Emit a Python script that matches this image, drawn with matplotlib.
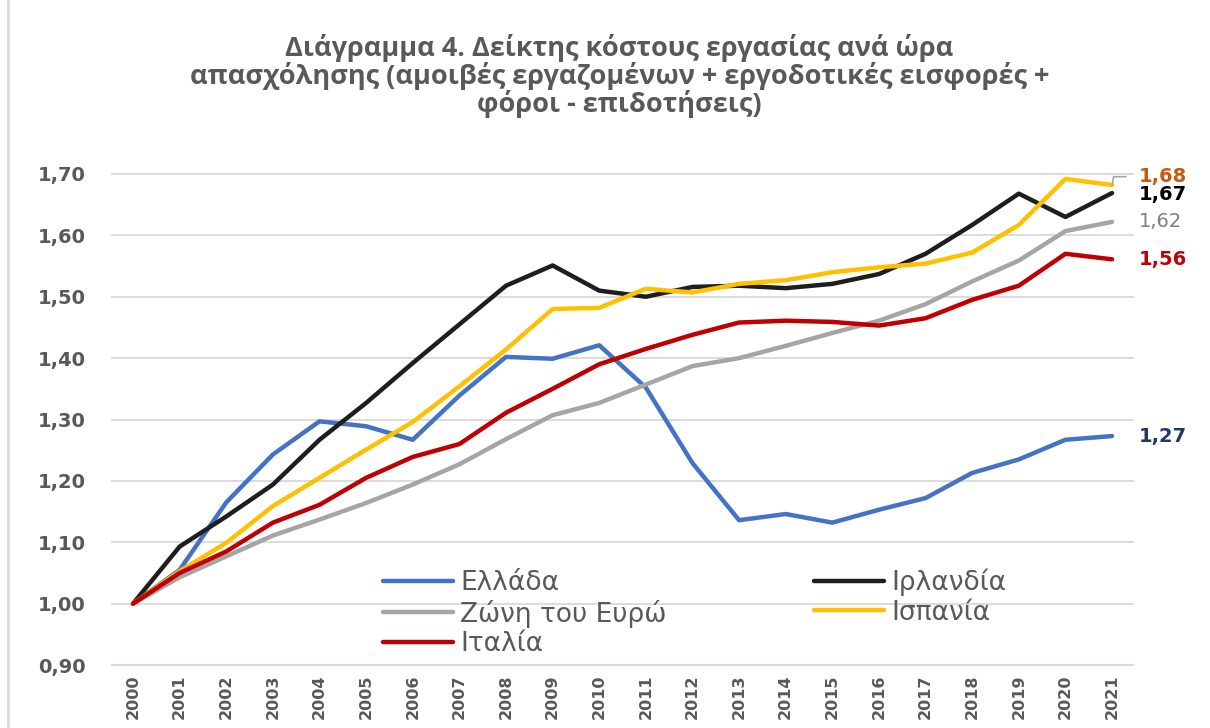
import numpy as np
import matplotlib.pyplot as plt
from matplotlib.lines import Line2D

# --- data (index, 2000 = 1.00) ---
years = list(range(2000, 2022))
greece = [1.00, 1.055, 1.165, 1.243, 1.297, 1.289, 1.267, 1.339, 1.402, 1.399, 1.421,
          1.352, 1.229, 1.136, 1.146, 1.132, 1.153, 1.172, 1.213, 1.235, 1.267, 1.273]
ireland = [1.00, 1.093, 1.142, 1.194, 1.267, 1.327, 1.392, 1.455, 1.518, 1.551, 1.510,
           1.500, 1.516, 1.518, 1.514, 1.521, 1.537, 1.570, 1.617, 1.668, 1.630, 1.669]
euro = [1.00, 1.043, 1.077, 1.111, 1.137, 1.164, 1.194, 1.227, 1.268, 1.307, 1.327,
        1.357, 1.387, 1.400, 1.420, 1.441, 1.461, 1.488, 1.525, 1.559, 1.607, 1.622]
spain = [1.00, 1.053, 1.099, 1.159, 1.205, 1.251, 1.296, 1.354, 1.414, 1.480, 1.482,
         1.513, 1.507, 1.521, 1.527, 1.540, 1.548, 1.554, 1.572, 1.617, 1.692, 1.682]
italy = [1.00, 1.050, 1.085, 1.132, 1.161, 1.205, 1.239, 1.260, 1.311, 1.350, 1.390,
         1.415, 1.438, 1.458, 1.461, 1.459, 1.453, 1.465, 1.495, 1.518, 1.570, 1.561]

names = ["Ελλάδα", "Ιρλανδία", "Ζώνη του Ευρώ", "Ισπανία", "Ιταλία"]
series = [greece, ireland, euro, spain, italy]
colors = ["#4472C4", "#1E1E1E", "#A5A5A5", "#FFC000", "#C00000"]
label_colors = ["#203864", "#000000", "#7F7F7F", "#C55A11", "#C00000"]
label_weights = ["bold", "bold", "normal", "bold", "bold"]
label_dy = [0, -1, 0, 6, 0]  # points

title = ("Διάγραμμα 4. Δείκτης κόστους εργασίας ανά ώρα\n"
         "απασχόλησης (αμοιβές εργαζομένων + εργοδοτικές εισφορές +\n"
         "φόροι - επιδοτήσεις)")

grey_txt = "#595959"

fig = plt.figure(figsize=(12.1, 7.28), dpi=100)
ax = fig.add_axes([0.0926, 0.0865, 0.8438, 0.6745])

x = np.arange(len(years))
lines = {}
for vals, name, c in zip(series, names, colors):
    lines[name], = ax.plot(x, vals, color=c, lw=3.2, label=name,
                           solid_capstyle="round", solid_joinstyle="round")

ax.set_xlim(-0.45, len(years) - 0.55)
ax.set_ylim(0.9, 1.7)
yt = np.round(np.arange(0.9, 1.71, 0.1), 2)
ax.set_yticks(yt)
ax.set_yticklabels([f"{v:.2f}".replace(".", ",") for v in yt],
                   fontsize=14, fontweight="bold", color=grey_txt)
ax.set_xticks(x)
ax.set_xticklabels([str(y) for y in years], rotation=90, fontsize=11.5,
                   fontweight="bold", color=grey_txt)
ax.tick_params(axis="y", length=0, pad=19)
ax.tick_params(axis="x", length=0, pad=7)

ax.yaxis.grid(True, color="#D9D9D9", lw=1.3)
for ln in ax.get_ygridlines():
    ln.set_clip_on(False)
ax.set_axisbelow(True)
for s in ["left", "right", "top"]:
    ax.spines[s].set_visible(False)
ax.spines["bottom"].set_color("#D9D9D9")
ax.spines["bottom"].set_linewidth(1.5)

# end-of-line value labels
for vals, c, w, dy, name in zip(series, label_colors, label_weights, label_dy, names):
    txt = f"{vals[-1]:.2f}".replace(".", ",")
    kw = {}
    if name == "Ισπανία":
        kw["arrowprops"] = dict(arrowstyle="-", color="#A6A6A6", lw=1.2,
                                shrinkA=7, shrinkB=0, relpos=(0, 0.5),
                                connectionstyle="angle,angleA=0,angleB=80,rad=0")
    ax.annotate(txt, xy=(x[-1], vals[-1]), xytext=(19, dy), textcoords="offset points",
                ha="left", va="center", fontsize=14, fontweight=w, color=c,
                annotation_clip=False, **kw)

# legend: matplotlib fills columns first
order = ["Ελλάδα", "Ζώνη του Ευρώ", "Ιταλία", "Ιρλανδία", "Ισπανία"]
leg = ax.legend([lines[n] for n in order], order, ncol=2, frameon=False,
                loc="upper left", bbox_to_anchor=(383 / 1210, 1 - 569 / 728),
                bbox_transform=fig.transFigure, borderpad=0, borderaxespad=0,
                fontsize=19, handlelength=2.65, handletextpad=0.27,
                columnspacing=5.6, labelspacing=0.12)
for t in leg.get_texts():
    t.set_color(grey_txt)

fig.text(0.512, 1 - 76 / 728, title, ha="center", va="center", fontsize=19.5,
         fontweight="bold", color=grey_txt, family="Open Sans", linespacing=1.02)

fig.add_artist(Line2D([8 / 1210, 8 / 1210], [0, 1], color="#D9D9D9", lw=2))

fig.savefig("out.png", dpi=100)
